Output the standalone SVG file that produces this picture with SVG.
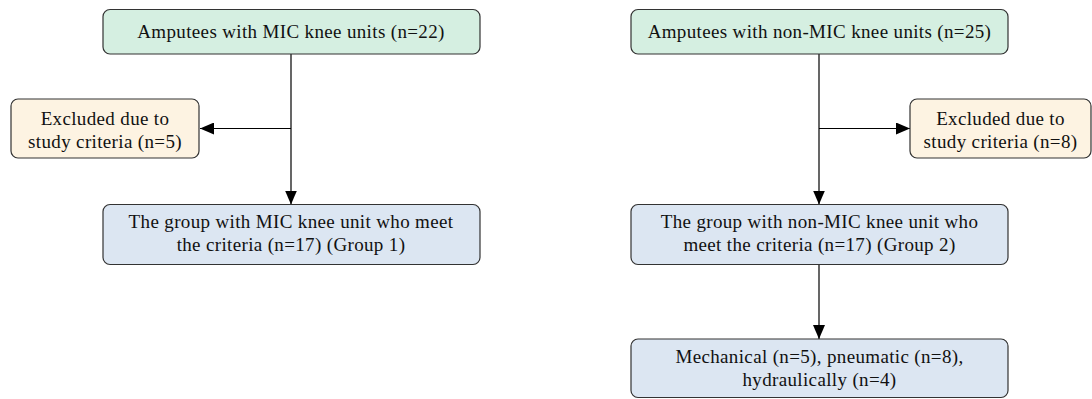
<svg xmlns="http://www.w3.org/2000/svg" width="1092" height="399" viewBox="0 0 1092 399">
<defs>
<marker id="arr" markerUnits="userSpaceOnUse" markerWidth="14" markerHeight="12" refX="14" refY="6" orient="auto">
<path d="M0,0 L14,6 L0,12 Z" fill="#000"/>
</marker>
<style>
.box{stroke:#333;stroke-width:1.2}
.g{fill:#d5efe1}
.y{fill:#fdf3e2}
.b{fill:#dce6f2}
text{font-size:19px;letter-spacing:0.35px;fill:#111;text-anchor:middle}
.c{stroke:#000;stroke-width:1.2;fill:none}
</style>
</defs>
<rect width="1092" height="399" fill="#fff"/>
<g id="connectors">
<line class="c" x1="291" y1="54" x2="291" y2="204.5" marker-end="url(#arr)"/>
<line class="c" x1="291" y1="128.5" x2="200" y2="128.5" marker-end="url(#arr)"/>
<line class="c" x1="819" y1="54" x2="819" y2="204.5" marker-end="url(#arr)"/>
<line class="c" x1="819" y1="128.5" x2="910" y2="128.5" marker-end="url(#arr)"/>
<line class="c" x1="819" y1="264.5" x2="819" y2="339" marker-end="url(#arr)"/>
</g>
<g font-family="'Liberation Serif', 'DejaVu Serif', serif">
<g id="top1">
<rect class="box g" x="103" y="9.5" width="377" height="44.5" rx="7"/>
<text x="291" y="37.5">Amputees with MIC knee units (n=22)</text>
</g>
<g id="top2">
<rect class="box g" x="631" y="9.5" width="377" height="44.5" rx="7"/>
<text x="819.5" y="37.5">Amputees with non-MIC knee units (n=25)</text>
</g>
<g id="excl1">
<rect class="box y" x="11" y="99" width="188" height="59" rx="7"/>
<text x="105" y="124.5">Excluded due to</text>
<text x="105" y="148">study criteria (n=5)</text>
</g>
<g id="excl2">
<rect class="box y" x="910" y="99" width="181" height="59" rx="7"/>
<text x="1000.5" y="124.5">Excluded due to</text>
<text x="1000.5" y="148">study criteria (n=8)</text>
</g>
<g id="group1">
<rect class="box b" x="103" y="204.5" width="377" height="60" rx="7"/>
<text x="291" y="228">The group with MIC knee unit who meet</text>
<text x="291" y="250.5">the criteria (n=17) (Group 1)</text>
</g>
<g id="group2">
<rect class="box b" x="631" y="204.5" width="377" height="60" rx="7"/>
<text x="819.5" y="228">The group with non-MIC knee unit who</text>
<text x="819.5" y="250.5">meet the criteria (n=17) (Group 2)</text>
</g>
<g id="mech">
<rect class="box b" x="631" y="339" width="377" height="58.5" rx="7"/>
<text x="819.5" y="363">Mechanical (n=5), pneumatic (n=8),</text>
<text x="819.5" y="385.5">hydraulically (n=4)</text>
</g>
</g>
</svg>
